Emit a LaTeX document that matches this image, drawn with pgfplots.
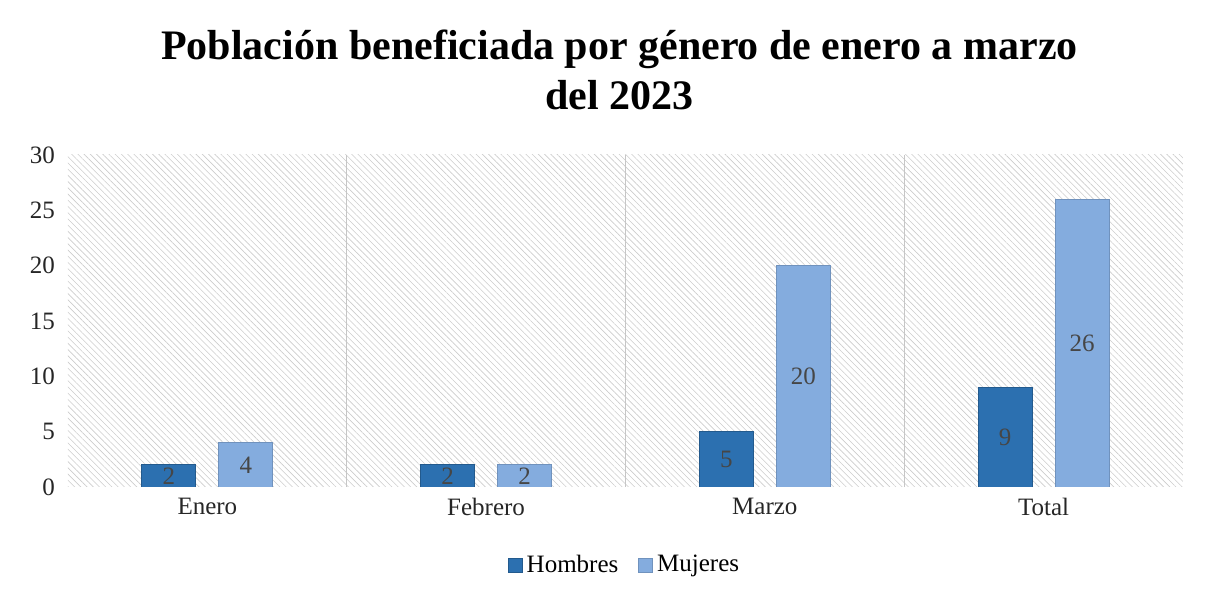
\documentclass[border=0pt]{standalone}
\usepackage{fontspec}
\setmainfont{Liberation Serif}
\usepackage{pgfplots}
\pgfplotsset{compat=1.18}
\usetikzlibrary{patterns.meta}
\definecolor{hom}{RGB}{44,112,176}
\definecolor{muj}{RGB}{132,172,222}
\definecolor{lbl}{RGB}{70,70,70}
\begin{document}
\begin{tikzpicture}
\useasboundingbox (0,0) rectangle (603.5pt,299.5pt);
\begin{axis}[
  at={(34pt,56pt)}, anchor=south west,
  scale only axis, width=557.5pt, height=166pt,
  ymin=0, ymax=30, ytick={0,5,...,30},
  xmin=-0.5, xmax=3.5,
  xtick={0,1,2,3},
  xticklabels={Enero,Febrero,Marzo,Total},
  minor xtick={0.5,1.5,2.5},
  xminorgrids,
  minor grid style={gray!45, line width=0.4pt},
  major tick length=0pt, minor tick length=0pt,
  axis line style={draw=none},
  axis background/.style={pattern={Lines[angle=-45,distance=2.2pt,line width=0.3pt]}, pattern color=gray!40},
  /pgf/number format/assume math mode=true,
  tick label style={font=\fontsize{12.5}{14}\selectfont, text=black!85},
  yticklabel style={xshift=-3pt},
  xticklabel style={yshift=-2pt},
  ybar=11.5pt, bar width=27pt,
  title={Población beneficiada por género de enero a marzo\\del 2023},
  title style={font=\bfseries\fontsize{21}{25}\selectfont, align=center, at={(0.5,1)}, anchor=south, yshift=13pt, xshift=-3pt},
  nodes near coords,
  visualization depends on=y \as \rawy,
  nodes near coords style={anchor=center, text=lbl, font=\fontsize{12.5}{14}\selectfont, shift={(axis direction cs:0,-\rawy/2)}},
  legend style={at={(0.5,-0.235)}, anchor=center, draw=none, fill=none, legend columns=2, font=\fontsize{12.5}{14}\selectfont, /tikz/every even column/.append style={column sep=8pt}},
  legend image code/.code={\fill[#1] (0pt,-3.5pt) rectangle (7pt,3.5pt);},
]
\addplot[fill=hom, draw=hom!80!black] coordinates {(0,2) (1,2) (2,5) (3,9)};
\addplot[fill=muj, draw=muj!85!black] coordinates {(0,4) (1,2) (2,20) (3,26)};
\legend{Hombres,Mujeres}
\end{axis}
\end{tikzpicture}
\end{document}
